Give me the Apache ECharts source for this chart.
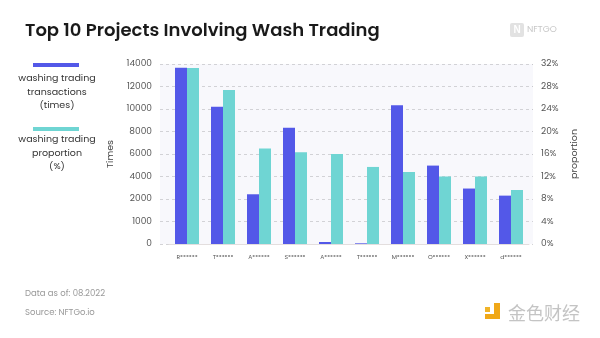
<!DOCTYPE html>
<html>
<head>
<meta charset="utf-8">
<script src="https://cdn.jsdelivr.net/npm/echarts@6/dist/echarts.min.js"></script>
<style>
html,body{margin:0;padding:0;background:#fff;}
#chart{width:600px;height:338px;}
</style>
</head>
<body>
<div id="chart"></div>
<script>
// Data
var categories = ['R******','T******','A******','S******','A******','T******','M******','O******','X******','d******'];
// washing trading transactions (left axis units, axis spans 0..16000 in 8 equal steps)
var transactions = [15670, 12200, 4420, 10330, 180, 60, 12340, 6970, 4930, 4300];
// washing trading proportion (%)
var proportion = [31.3, 27.4, 17.0, 16.3, 16.0, 13.7, 12.8, 12.0, 12.0, 9.6];
// left tick labels as printed in the reference (bottom to top)
var leftTickLabels = ['0','1000','2000','4000','6000','8000','10000','12000','14000'];
var rightTickLabels = ['0%','4%','8%','12%','16%','20%','24%','28%','32%'];

var blue = '#5358e8';
var cyan = '#6fd5d3';
var font = 'Poppins, "Open Sans", Lato, sans-serif';

var chart = echarts.init(document.getElementById('chart'), null, {renderer:'canvas'});
var option = {
  animation:false,
  backgroundColor:'#ffffff',
  textStyle:{fontFamily:font},
  grid:[
    {left:160, top:64, width:373, height:180, show:true, backgroundColor:'#f8f8fc', borderWidth:0},
    {left:169, top:64, width:360, height:180}
  ],
  xAxis:[
    {gridIndex:0, type:'category', data:categories, show:false},
    {gridIndex:1, type:'category', data:categories,
      axisLine:{show:true, lineStyle:{color:'#e3dede', width:1}},
      axisTick:{show:false},
      axisLabel:{fontSize:6, color:'#555', margin:10, fontFamily:font}
    }
  ],
  yAxis:[
    {gridIndex:0, type:'value', min:0, max:16000, interval:2000, position:'left',
      name:'Times', nameLocation:'middle', nameGap:33, nameRotate:90,
      nameTextStyle:{fontSize:9.5, color:'#444', fontFamily:font},
      axisLine:{show:false}, axisTick:{show:false},
      axisLabel:{fontSize:9, color:'#555', margin:8, fontFamily:font,
        formatter:function(v){return leftTickLabels[Math.round(v/2000)];}},
      splitLine:{show:true, lineStyle:{color:'#c8c8cc', type:[3,3], width:0.8}}
    },
    {gridIndex:0, type:'value', min:0, max:32, interval:4, position:'right',
      name:'proportion', nameLocation:'middle', nameGap:36, nameRotate:90,
      nameTextStyle:{fontSize:9.5, color:'#444', fontFamily:font},
      axisLine:{show:false}, axisTick:{show:false},
      axisLabel:{fontSize:9, color:'#555', margin:8, fontFamily:font,
        formatter:function(v){return rightTickLabels[Math.round(v/4)];}},
      splitLine:{show:false}
    },
    {gridIndex:1, type:'value', min:0, max:16000, interval:2000, show:false},
    {gridIndex:1, type:'value', min:0, max:32, interval:4, show:false}
  ],
  series:[
    {name:'washing trading transactions (times)', type:'bar', xAxisIndex:1, yAxisIndex:2,
      data:transactions, barWidth:12, barGap:'0%', itemStyle:{color:blue}},
    {name:'washing trading proportion (%)', type:'bar', xAxisIndex:1, yAxisIndex:3,
      data:proportion, barWidth:12, barGap:'0%', itemStyle:{color:cyan}}
  ],
  graphic:[
    {type:'text', left:25, top:22, style:{text:'Top 10 Projects Involving Wash Trading', font:'600 18px '+font, fill:'#1a1a1a'}},
    // NFTGO mark
    {type:'rect', shape:{x:510, y:23, width:14, height:14, r:2}, style:{fill:'#e2e2e2'}},
    {type:'text', x:517, y:30, style:{text:'N', font:'bold 10px sans-serif', fill:'#fff', align:'center', verticalAlign:'middle'}},
    {type:'text', x:527, y:30, style:{text:'NFTGO', font:'9px '+font, fill:'#c8c8c8', verticalAlign:'middle'}},
    // legend
    {type:'rect', shape:{x:33, y:63, width:46, height:4}, style:{fill:blue}},
    {type:'text', x:57, y:79, style:{text:'washing trading', font:'9.5px '+font, fill:'#333', align:'center', verticalAlign:'middle'}},
    {type:'text', x:57, y:93, style:{text:'transactions', font:'9.5px '+font, fill:'#333', align:'center', verticalAlign:'middle'}},
    {type:'text', x:57, y:106, style:{text:'(times)', font:'9.5px '+font, fill:'#333', align:'center', verticalAlign:'middle'}},
    {type:'rect', shape:{x:33, y:127, width:46, height:4}, style:{fill:cyan}},
    {type:'text', x:57, y:140, style:{text:'washing trading', font:'9.5px '+font, fill:'#333', align:'center', verticalAlign:'middle'}},
    {type:'text', x:57, y:154, style:{text:'proportion', font:'9.5px '+font, fill:'#333', align:'center', verticalAlign:'middle'}},
    {type:'text', x:57, y:167, style:{text:'(%)', font:'9.5px '+font, fill:'#333', align:'center', verticalAlign:'middle'}},
    // footer
    {type:'text', x:25, y:294, style:{text:'Data as of: 08.2022', font:'8.5px '+font, fill:'#999', verticalAlign:'middle'}},
    {type:'text', x:25, y:313, style:{text:'Source: NFTGo.io', font:'8.5px '+font, fill:'#999', verticalAlign:'middle'}},
    // watermark logo
    {type:'rect', shape:{x:485, y:307, width:5, height:5}, style:{fill:'#f0b429'}},
    {type:'rect', shape:{x:494, y:303, width:6, height:16}, style:{fill:'#f0a818'}},
    {type:'rect', shape:{x:485, y:314, width:15, height:5}, style:{fill:'#f0a818'}},
    {type:'text', x:508, y:313, style:{text:'金色财经', font:'18px "Noto Sans CJK SC", sans-serif', fill:'#c4c4c4', verticalAlign:'middle'}}
  ]
};
chart.setOption(option);
</script>
</body>
</html>
